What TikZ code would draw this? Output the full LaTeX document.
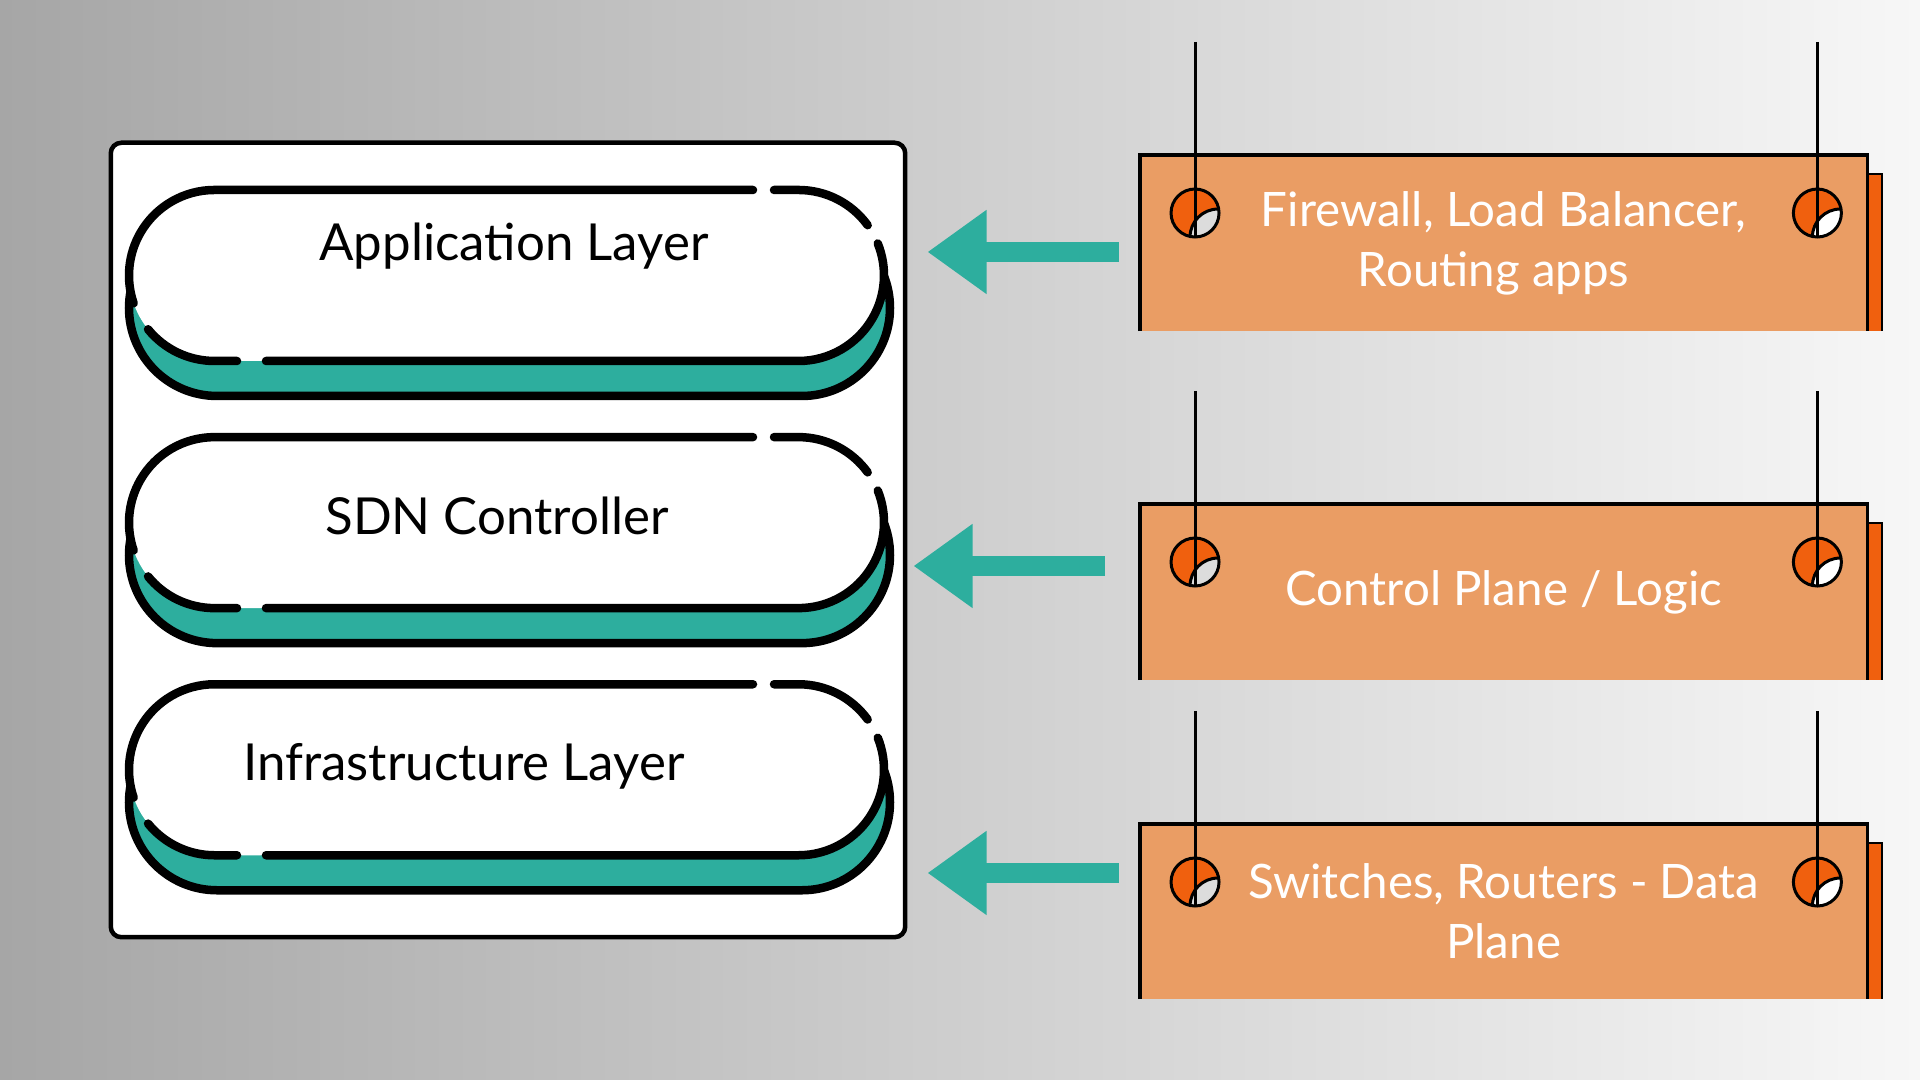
\documentclass[tikz,border=0pt]{standalone}
\usepackage{fontspec}
\setmainfont{Lato}
\usepackage{tikz}
\usetikzlibrary{calc,arrows.meta}
\definecolor{SdnTeal}{RGB}{45,174,158}
\definecolor{SdnBgLeft}{RGB}{166,166,166}
\definecolor{SdnBgRight}{RGB}{247,247,247}
\definecolor{SignOrange}{RGB}{234,157,100}
\definecolor{SignDark}{RGB}{240,96,14}
\definecolor{RingGrey}{RGB}{220,220,220}

% ring on a hanging line: #1 centre, #2 colour of the lower part
\newcommand{\hangring}[2]{%
  \begin{scope}
    \clip (#1) circle[radius=24];
    \fill[SignDark] (#1) circle[radius=24];
    \filldraw[fill=#2,draw=black,line width=0.03cm] ([shift={(0.23cm,-0.24cm)}]#1) circle[radius=28];
  \end{scope}
  \draw[line width=0.03cm] (#1) circle[radius=24];
}

\begin{document}
\begin{tikzpicture}[x=0.01cm,y=0.01cm,
  panelbox/.style={draw,fill=white,line width=0.045cm,rounded corners=3pt,minimum width=7.94cm,minimum height=7.94cm},
  backpill/.style={draw,fill=SdnTeal,line width=0.085cm,rounded corners=0.88cm},
  pilledge/.style={line width=0.085cm,line cap=round},
  layertext/.style={font=\fontsize{14.5}{17}\selectfont,text=black},
  signbox/.style={fill=SignOrange,minimum width=7.27cm,minimum height=1.76cm,inner sep=0pt,outer sep=0pt,
    align=center,text=white,font=\fontsize{13.5}{17}\selectfont,anchor=north west},
  signedge/.style={line width=0.035cm},
  hangline/.style={line width=0.03cm},
  flowarrow/.style={SdnTeal,line width=0.2cm,-{Triangle[length=0.59cm,width=0.8cm]}}]

  \shade[left color=SdnBgLeft,right color=SdnBgRight] (0,0) rectangle (1920,1080);

  \node[panelbox] (panel) at (508,540) {};

  % three layer pills
  \foreach \dy in {0,-2.47,-4.94} {
    \begin{scope}[yshift=\dy cm]
      \draw[backpill] (129,684) rectangle (890,860);
      \fill[white,rounded corners=0.855cm] (129,719) rectangle (884,890);
      \draw[pilledge] (753,890) -- (214.5,890) arc[start angle=90,end angle=199,radius=85.5];
      \draw[pilledge] (214.5,804.5) ++(219:85.5) arc[start angle=219,end angle=270,radius=85.5] -- (237,719);
      \draw[pilledge] (266,719) -- (798.5,719) arc[start angle=-90,end angle=22,radius=85.5];
      \draw[pilledge] (798.5,804.5) ++(36:85.5) arc[start angle=36,end angle=90,radius=85.5] -- (774,890);
    \end{scope}
  }

  \node[layertext] (app) at (514,834) {Application Layer};
  \node[layertext] (sdn) at (497,564) {SDN Controller};
  \node[layertext] (infra) at (464,314) {Infrastructure Layer};

  % hanging signs
  \node[signbox] (box1) at (1140,925) {Firewall, Load Balancer,\\Routing apps\hspace*{0.2cm}};
  \node[signbox] (box2) at (1140,576) {Control Plane / Logic};
  \node[signbox,minimum height=1.75cm] (box3) at (1140,256) {Switches, Routers - Data\\Plane};

  \foreach \b in {box1,box2,box3} {
    \fill[SignDark] ([yshift=-0.19cm]\b.north east) rectangle ([xshift=0.15cm]\b.south east);
    \draw[line width=0.02cm] ([yshift=-0.19cm]\b.north east) -- ++(0.15cm,0) -- ([xshift=0.15cm]\b.south east);
    \draw[signedge] (\b.south west) -- (\b.north west) -- (\b.north east) -- (\b.south east);
    \coordinate (\b-l) at ([xshift=0.55cm,yshift=-0.58cm]\b.north west);
    \coordinate (\b-r) at ([xshift=-0.5cm,yshift=-0.58cm]\b.north east);
    \hangring{\b-l}{RingGrey}
    \hangring{\b-r}{white}
    \draw[hangline] ([yshift=1.71cm]\b-l) -- ([yshift=-0.24cm]\b-l);
    \draw[hangline] ([yshift=1.71cm]\b-r) -- ([yshift=-0.24cm]\b-r);
  }

  % arrows from signs to the stack
  \coordinate (arr1) at (1000,828);
  \coordinate (arr2) at (1000,514);
  \coordinate (arr3) at (1000,207);
  \draw[flowarrow,shorten <=0.21cm,shorten >=0.2cm] (box1.west |- arr1) -- (panel.east |- arr1);
  \draw[flowarrow,shorten <=0.35cm,shorten >=0.06cm] (box2.west |- arr2) -- (panel.east |- arr2);
  \draw[flowarrow,shorten <=0.21cm,shorten >=0.2cm] (box3.west |- arr3) -- (panel.east |- arr3);
\end{tikzpicture}
\end{document}
